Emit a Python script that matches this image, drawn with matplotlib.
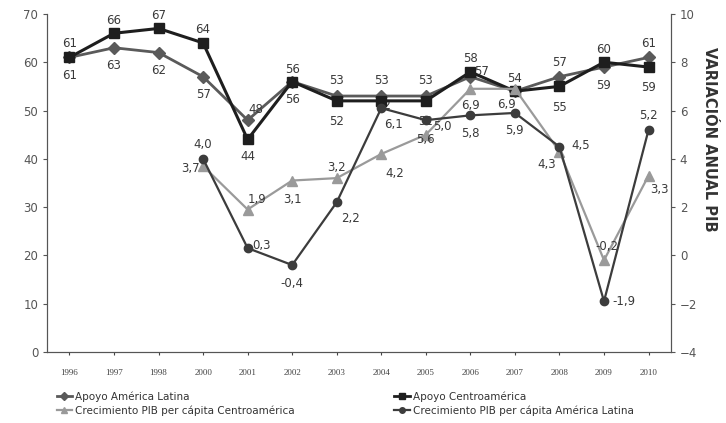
import matplotlib.pyplot as plt

years = ["1996", "1997", "1998", "2000", "2001", "2002", "2003", "2004",
         "2005", "2006", "2007", "2008", "2009", "2010"]
apoyo_al = [61, 63, 62, 57, 48, 56, 53, 53, 53, 57, 54, 57, 59, 61]
apoyo_ca = [61, 66, 67, 64, 44, 56, 52, 52, 52, 58, 54, 55, 60, 59]
pib_years = ["2000", "2001", "2002", "2003", "2004", "2005", "2006", "2007",
             "2008", "2009", "2010"]
pib_ca = [3.7, 1.9, 3.1, 3.2, 4.2, 5.0, 6.9, 6.9, 4.3, -0.2, 3.3]
pib_al = [4.0, 0.3, -0.4, 2.2, 6.1, 5.6, 5.8, 5.9, 4.5, -1.9, 5.2]

# label offsets (points)
off_al = [(0, 10), (0, -13), (0, -13), (0, -13), (6, 8), (0, -13), (0, 11),
          (0, 11), (0, 11), (8, 4), (0, 9), (0, 10), (0, -13), (0, 10)]
off_ca = [(0, -13), (0, 9), (0, 9), (0, 10), (0, -12), (0, 9), (0, -15),
          (2, -3), (0, -15), (0, 10), None, (0, -15), (0, 9), (0, -15)]
off_pca = [(-9, -2), (7, 7), (0, -14), (0, 8), (10, -14), (12, 6), (0, -12),
           (-6, -11), (-9, -9), (2, 10), (8, -10)]
off_pal = [(0, 10), (10, 2), (0, -13), (10, -12), (9, -12), (0, -14),
           (0, -13), (0, -13), (15, 1), (14, 0), (0, 10)]

fig = plt.figure(figsize=(7.26, 4.23), dpi=100)
ax = fig.add_axes([0.065, 0.168, 0.859, 0.799])
ax2 = ax.twinx()

xa = list(range(len(years)))
xp = [years.index(y) for y in pib_years]

ax.plot(xa, apoyo_al, color="#5a5a5a", lw=2, marker="D", ms=6, zorder=3)
ax.plot(xa, apoyo_ca, color="#1e1e1e", lw=2.2, marker="s", ms=7, zorder=4)
ax2.plot(xp, pib_ca, color="#9a9a9a", lw=1.6, marker="^", ms=7, zorder=3)
ax2.plot(xp, pib_al, color="#3c3c3c", lw=1.6, marker="o", ms=6, zorder=4)

lbl = dict(fontsize=8.5, color="#3a3a3a", ha="center", va="center",
           textcoords="offset points")
for x, v, o in zip(xa, apoyo_al, off_al):
    ax.annotate(str(v), (x, v), xytext=o, **lbl)
for x, v, o in zip(xa, apoyo_ca, off_ca):
    if o is not None:
        ax.annotate(str(v), (x, v), xytext=o, **lbl)
for x, v, o in zip(xp, pib_ca, off_pca):
    ax2.annotate(f"{v:.1f}".replace(".", ","), (x, v), xytext=o, **lbl)
for x, v, o in zip(xp, pib_al, off_pal):
    ax2.annotate(f"{v:.1f}".replace(".", ","), (x, v), xytext=o, **lbl)

ax.set_xlim(-0.5, len(years) - 0.5)
ax.set_ylim(0, 70)
ax2.set_ylim(-4, 10)
ax.set_yticks(range(0, 71, 10))
ax2.set_yticks(range(-4, 11, 2))
ax.set_xticks(xa)
ax.set_xticklabels(years, fontsize=6.5, family="Liberation Serif", color="#333")
ax.tick_params(axis="y", labelsize=8.5, colors="#555", length=3)
ax2.tick_params(axis="y", labelsize=8.5, colors="#555", length=3)
ax.tick_params(axis="x", length=2, pad=10, colors="#444")
for a in (ax, ax2):
    a.spines["top"].set_visible(False)
    for s in ("left", "right", "bottom"):
        a.spines[s].set_color("#555")
ax2.set_ylabel("VARIACIÓN ANUAL PIB", rotation=-90, fontsize=10.5,
               fontweight="bold", color="#333", va="center")
ax2.yaxis.set_label_coords(1.062, 0.63)

handles = [
    plt.Line2D([], [], color="#5a5a5a", lw=2, marker="D", ms=4),
    plt.Line2D([], [], color="#1e1e1e", lw=2, marker="s", ms=5),
    plt.Line2D([], [], color="#9a9a9a", lw=1.6, marker="^", ms=5),
    plt.Line2D([], [], color="#3c3c3c", lw=1.6, marker="o", ms=4),
]
names = ["Apoyo América Latina", "Apoyo Centroamérica",
         "Crecimiento PIB per cápita Centroamérica",
         "Crecimiento PIB per cápita América Latina"]
order = [0, 2, 1, 3]
fig.legend([handles[i] for i in order], [names[i] for i in order], ncol=2,
           loc="lower left", bbox_to_anchor=(0.065, -0.005), frameon=False,
           fontsize=7.5, handlelength=1.5, handletextpad=0.3,
           columnspacing=9.5, labelspacing=0.35, labelcolor="#333")

fig.savefig("out.png", dpi=100)
